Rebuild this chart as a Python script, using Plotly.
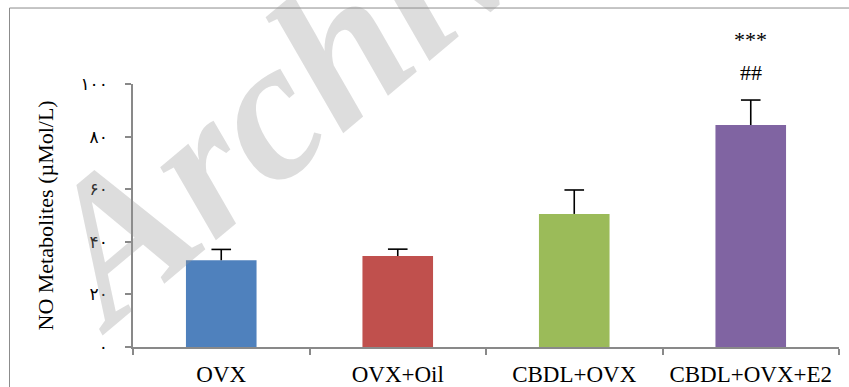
import plotly.graph_objects as go

# Group means and upper SEM for nitric-oxide metabolites
groups = ["OVX", "OVX+Oil", "CBDL+OVX", "CBDL+OVX+E2"]
means = [33.0, 34.6, 50.6, 84.4]
sem_upper = [4.1, 2.6, 9.1, 9.5]
bar_colors = ["#4F81BD", "#C0504D", "#9BBB59", "#8064A2"]

# y-axis ticks written with Persian digits
y_ticks = [0, 20, 40, 60, 80, 100]
y_tick_text = ["۰", "۲۰", "۴۰", "۶۰", "۸۰", "۱۰۰"]

# significance marks above the E2 group
sig_group = "CBDL+OVX+E2"
sig_marks = ["***", "##"]
sig_levels = [117.0, 104.5]

y_max = 100
axis_gray = "#898989"
serif = "Liberation Serif, Times New Roman, serif"

fig = go.Figure()
# bars with a one-sided stem (no cap at the bar top)
fig.add_trace(go.Bar(
    x=groups,
    y=means,
    width=0.4,
    marker=dict(color=bar_colors, line=dict(width=0)),
    error_y=dict(type="data", array=sem_upper, arrayminus=[0] * len(groups),
                 symmetric=False, color="black", thickness=1.6, width=0),
    showlegend=False,
))
# caps at the end of each SEM stem
fig.add_trace(go.Scatter(
    x=groups,
    y=[m + s for m, s in zip(means, sem_upper)],
    mode="markers",
    marker=dict(symbol="line-ew", size=14, line=dict(color="black", width=1.6)),
    showlegend=False, hoverinfo="skip",
))

# faint diagonal watermark behind the labels
fig.add_annotation(
    text="<b><i>Archive</i></b>", xref="paper", yref="paper",
    x=0.25, y=1.04, xanchor="center", yanchor="middle",
    textangle=-40, showarrow=False,
    font=dict(family=serif, size=200, color="rgba(150,150,150,0.32)"),
)

for mark, lvl in zip(sig_marks, sig_levels):
    fig.add_annotation(
        text=mark, x=sig_group, y=lvl / y_max, xref="x", yref="paper",
        xanchor="center", yanchor="middle",
        showarrow=False, font=dict(family=serif, size=22, color="black"),
    )

fig.add_annotation(
    text="NO Metabolites (µMol/L)", xref="paper", yref="paper",
    x=(45 - 133) / 706, y=0.5, xanchor="center", yanchor="middle",
    textangle=-90, showarrow=False,
    font=dict(family=serif, size=22, color="black"),
)

# outer frame around the figure
fig.add_shape(
    type="rect", xref="paper", yref="paper",
    x0=(9.5 - 133) / 706, x1=1.2, y0=-0.5, y1=(346.7 - 8.5) / 262.4,
    line=dict(color="#8c8c8c", width=1), fillcolor="rgba(0,0,0,0)",
)

fig.update_layout(
    width=849, height=387,
    margin=dict(l=133, r=10, t=84.3, b=40.3),
    plot_bgcolor="white", paper_bgcolor="white",
    bargap=0.6,
)
fig.update_xaxes(
    showgrid=False, showline=True, linecolor=axis_gray, linewidth=1.5,
    ticks="outside", tickson="boundaries", ticklen=6, tickcolor=axis_gray,
    tickwidth=1.5, tickfont=dict(family=serif, size=23, color="black"),
    ticklabelstandoff=6, automargin=False,
)
fig.update_yaxes(
    range=[0, y_max], tickvals=y_ticks, ticktext=y_tick_text,
    showgrid=False, showline=True, linecolor=axis_gray, linewidth=1.5,
    ticks="outside", ticklen=6, tickcolor=axis_gray, tickwidth=1.5,
    tickfont=dict(family="DejaVu Serif, DejaVu Sans, serif", size=17, color="black"),
    ticklabelstandoff=14, zeroline=False, automargin=False,
)

fig.write_html("out.html")
